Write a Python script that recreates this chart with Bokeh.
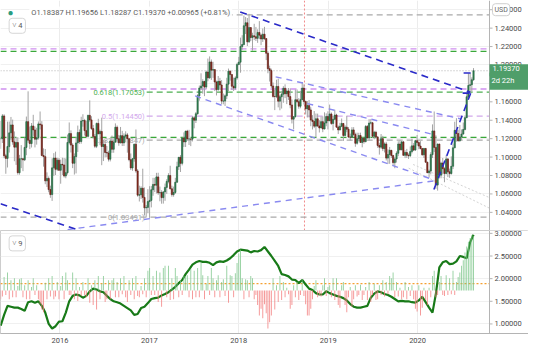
import datetime as dt
from bokeh.plotting import figure
from bokeh.models import (ColumnDataSource, FixedTicker, NumeralTickFormatter, Label,
                          Range1d, Span, Grid)
from bokeh.layouts import column
from bokeh.embed import file_html
from bokeh.resources import INLINE
from bokeh.core.properties import value

FONT = "Roboto"

# ---------------- data (weekly EUR/USD, weeks starting 2015-05-04) ----------------
first_open = 1.1198
close_2015 = [1.1200, 1.1447, 1.1014, 1.0986, 1.1114, 1.1263, 1.1349, 1.1165, 1.1108, 1.1158, 1.0831, 1.0981, 1.0982, 1.0970, 1.1105, 1.1385, 1.1183, 1.1147, 1.1338, 1.1295, 1.1194, 1.1210, 1.1360, 1.1350, 1.1017, 1.1005, 1.0742, 1.0768, 1.0647, 1.0593, 1.0883, 1.0990, 1.0867, 1.0967, 1.0857]
high_2015 = [1.1392, 1.1467, 1.1465, 1.1035, 1.1385, 1.1386, 1.1436, 1.1407, 1.1278, 1.1215, 1.1217, 1.1024, 1.1130, 1.0990, 1.1214, 1.1440, 1.1714, 1.1332, 1.1370, 1.1459, 1.1332, 1.1318, 1.1387, 1.1495, 1.1390, 1.1095, 1.1088, 1.0834, 1.0790, 1.0690, 1.0985, 1.1043, 1.1059, 1.0992, 1.0990]
low_2015 = [1.1090, 1.1153, 1.0988, 1.0819, 1.0887, 1.1049, 1.1187, 1.1134, 1.0955, 1.0915, 1.0809, 1.0809, 1.0880, 1.0847, 1.0957, 1.1020, 1.1155, 1.1087, 1.1104, 1.1230, 1.1105, 1.1135, 1.1190, 1.1300, 1.1009, 1.0896, 1.0705, 1.0675, 1.0618, 1.0558, 1.0524, 1.0796, 1.0805, 1.0848, 1.0849]

close_2016 = [1.0921, 1.0915, 1.0795, 1.0831, 1.1158, 1.1255, 1.1130, 1.0933, 1.1005, 1.1154, 1.1267, 1.1169, 1.1392, 1.1397, 1.1287, 1.1225, 1.1453, 1.1404, 1.1310, 1.1224, 1.1118, 1.1366, 1.1253, 1.1278, 1.1115, 1.1137, 1.1050, 1.1044, 1.0977, 1.1174, 1.1085, 1.1162, 1.1324, 1.1199, 1.1155, 1.1233, 1.1154, 1.1227, 1.1241, 1.1200, 1.0972, 1.0882, 1.0982, 1.1140, 1.0850, 1.0587, 1.0590, 1.0662, 1.0562, 1.0449, 1.0454, 1.0517]
high_2016 = [1.0972, 1.0993, 1.0990, 1.0985, 1.1245, 1.1376, 1.1290, 1.1150, 1.1040, 1.1218, 1.1342, 1.1300, 1.1438, 1.1465, 1.1415, 1.1395, 1.1460, 1.1616, 1.1444, 1.1349, 1.1250, 1.1374, 1.1416, 1.1298, 1.1428, 1.1187, 1.1187, 1.1120, 1.1069, 1.1198, 1.1234, 1.1190, 1.1366, 1.1343, 1.1240, 1.1327, 1.1285, 1.1258, 1.1280, 1.1262, 1.1210, 1.1039, 1.0990, 1.1145, 1.1300, 1.0870, 1.0690, 1.0683, 1.0874, 1.0670, 1.0480, 1.0652]
low_2016 = [1.0711, 1.0805, 1.0778, 1.0770, 1.0810, 1.1140, 1.1050, 1.0880, 1.0810, 1.0823, 1.1056, 1.1144, 1.1145, 1.1330, 1.1234, 1.1217, 1.1212, 1.1384, 1.1295, 1.1200, 1.1098, 1.1098, 1.1248, 1.1130, 1.0912, 1.0957, 1.0998, 1.1000, 1.0952, 1.0953, 1.1046, 1.1047, 1.1160, 1.1170, 1.1123, 1.1148, 1.1120, 1.1120, 1.1160, 1.1048, 1.0954, 1.0859, 1.0851, 1.0950, 1.0830, 1.0570, 1.0518, 1.0545, 1.0506, 1.0366, 1.0352, 1.0390]

close_2017 = [1.0530, 1.0645, 1.0703, 1.0695, 1.0785, 1.0612, 1.0615, 1.0560, 1.0622, 1.0671, 1.0736, 1.0800, 1.0656, 1.0593, 1.0616, 1.0727, 1.0896, 1.0998, 1.0932, 1.1206, 1.1165, 1.1282, 1.1197, 1.1197, 1.1195, 1.1426, 1.1400, 1.1471, 1.1665, 1.1750, 1.1772, 1.1820, 1.1760, 1.1924, 1.1860, 1.2033, 1.1944, 1.1950, 1.1815, 1.1733, 1.1822, 1.1783, 1.1608, 1.1608, 1.1665, 1.1792, 1.1933, 1.1896, 1.1769, 1.1751, 1.1859, 1.2005]
high_2017 = [1.0684, 1.0685, 1.0775, 1.0775, 1.0829, 1.0830, 1.0680, 1.0640, 1.0630, 1.0713, 1.0760, 1.0825, 1.0906, 1.0690, 1.0680, 1.0775, 1.0950, 1.1000, 1.1022, 1.1214, 1.1268, 1.1285, 1.1296, 1.1296, 1.1199, 1.1445, 1.1445, 1.1490, 1.1683, 1.1777, 1.1910, 1.1845, 1.1830, 1.1940, 1.2070, 1.2093, 1.2060, 1.2035, 1.1950, 1.1830, 1.1880, 1.1860, 1.1836, 1.1690, 1.1680, 1.1861, 1.1961, 1.1940, 1.1900, 1.1863, 1.1877, 1.2023]
low_2017 = [1.0340, 1.0454, 1.0580, 1.0620, 1.0605, 1.0590, 1.0520, 1.0494, 1.0495, 1.0525, 1.0600, 1.0715, 1.0650, 1.0570, 1.0570, 1.0600, 1.0720, 1.0860, 1.0838, 1.0910, 1.1110, 1.1110, 1.1190, 1.1131, 1.1119, 1.1170, 1.1312, 1.1370, 1.1460, 1.1612, 1.1730, 1.1688, 1.1662, 1.1741, 1.1823, 1.1850, 1.1838, 1.1860, 1.1717, 1.1669, 1.1720, 1.1730, 1.1574, 1.1573, 1.1555, 1.1630, 1.1715, 1.1830, 1.1730, 1.1717, 1.1730, 1.1840]

close_2018 = [1.2030, 1.2200, 1.2222, 1.2426, 1.2458, 1.2251, 1.2406, 1.2298, 1.2317, 1.2307, 1.2289, 1.2353, 1.2324, 1.2282, 1.2334, 1.2287, 1.2127, 1.1960, 1.1940, 1.1772, 1.1658, 1.1657, 1.1767, 1.1607, 1.1655, 1.1683, 1.1747, 1.1687, 1.1718, 1.1657, 1.1566, 1.1412, 1.1438, 1.1622, 1.1602, 1.1552, 1.1623, 1.1749, 1.1604, 1.1524, 1.1559, 1.1512, 1.1402, 1.1387, 1.1336, 1.1416, 1.1338, 1.1316, 1.1385, 1.1305, 1.1370, 1.1440]
high_2018 = [1.2088, 1.2297, 1.2323, 1.2536, 1.2520, 1.2510, 1.2555, 1.2411, 1.2350, 1.2447, 1.2413, 1.2387, 1.2476, 1.2340, 1.2396, 1.2414, 1.2290, 1.2150, 1.1993, 1.1960, 1.1810, 1.1730, 1.1840, 1.1852, 1.1675, 1.1720, 1.1770, 1.1790, 1.1745, 1.1750, 1.1746, 1.1625, 1.1445, 1.1733, 1.1734, 1.1640, 1.1721, 1.1815, 1.1790, 1.1613, 1.1609, 1.1620, 1.1541, 1.1455, 1.1500, 1.1473, 1.1472, 1.1400, 1.1441, 1.1442, 1.1486, 1.1475]
low_2018 = [1.1998, 1.1916, 1.2165, 1.2214, 1.2336, 1.2206, 1.2240, 1.2260, 1.2155, 1.2270, 1.2260, 1.2240, 1.2280, 1.2215, 1.2250, 1.2270, 1.2053, 1.1910, 1.1820, 1.1750, 1.1645, 1.1510, 1.1640, 1.1540, 1.1508, 1.1527, 1.1590, 1.1640, 1.1575, 1.1620, 1.1530, 1.1365, 1.1301, 1.1430, 1.1590, 1.1525, 1.1530, 1.1620, 1.1570, 1.1463, 1.1430, 1.1430, 1.1335, 1.1300, 1.1315, 1.1216, 1.1325, 1.1267, 1.1315, 1.1270, 1.1300, 1.1335]

close_2019 = [1.1395, 1.1468, 1.1365, 1.1410, 1.1457, 1.1325, 1.1295, 1.1334, 1.1365, 1.1235, 1.1325, 1.1303, 1.1217, 1.1216, 1.1295, 1.1246, 1.1150, 1.1200, 1.1234, 1.1159, 1.1204, 1.1168, 1.1333, 1.1208, 1.1370, 1.1372, 1.1226, 1.1270, 1.1219, 1.1126, 1.1108, 1.1200, 1.1092, 1.1143, 1.0989, 1.1028, 1.1074, 1.1017, 1.0940, 1.0979, 1.1041, 1.1142, 1.1080, 1.1165, 1.1019, 1.1050, 1.1020, 1.1015, 1.1060, 1.1122, 1.1076, 1.1178]
high_2019 = [1.1497, 1.1570, 1.1485, 1.1446, 1.1514, 1.1470, 1.1343, 1.1372, 1.1419, 1.1370, 1.1345, 1.1448, 1.1326, 1.1255, 1.1325, 1.1325, 1.1265, 1.1265, 1.1264, 1.1265, 1.1215, 1.1216, 1.1347, 1.1348, 1.1412, 1.1412, 1.1382, 1.1285, 1.1286, 1.1225, 1.1155, 1.1250, 1.1231, 1.1160, 1.1165, 1.1085, 1.1110, 1.1075, 1.1025, 1.0998, 1.1063, 1.1172, 1.1180, 1.1175, 1.1176, 1.1074, 1.1089, 1.1040, 1.1115, 1.1200, 1.1152, 1.1188]
low_2019 = [1.1300, 1.1390, 1.1350, 1.1290, 1.1405, 1.1318, 1.1250, 1.1290, 1.1325, 1.1175, 1.1225, 1.1270, 1.1210, 1.1180, 1.1210, 1.1225, 1.1112, 1.1135, 1.1170, 1.1155, 1.1106, 1.1145, 1.1160, 1.1202, 1.1180, 1.1355, 1.1209, 1.1193, 1.1200, 1.1101, 1.1027, 1.1090, 1.1065, 1.1050, 1.0963, 1.0926, 1.0927, 1.0990, 1.0904, 1.0879, 1.0941, 1.1010, 1.1072, 1.1073, 1.1015, 1.0989, 1.0990, 1.0980, 1.1000, 1.1040, 1.1065, 1.1070]

close_2020 = [1.1158, 1.1120, 1.1092, 1.1025, 1.1094, 1.0944, 1.0830, 1.0848, 1.1027, 1.1284, 1.1105, 1.0696, 1.1141, 1.0804, 1.0935, 1.0874, 1.0822, 1.0980, 1.0840, 1.0821, 1.0900, 1.1101, 1.1291, 1.1256, 1.1177, 1.1219, 1.1250, 1.1300, 1.1428, 1.1655, 1.1778, 1.1786, 1.1839, 1.1937]
high_2020 = [1.1240, 1.1170, 1.1173, 1.1100, 1.1097, 1.1095, 1.0950, 1.0865, 1.1053, 1.1355, 1.1495, 1.1236, 1.1147, 1.1147, 1.0950, 1.0990, 1.0890, 1.1020, 1.0990, 1.0875, 1.1008, 1.1146, 1.1384, 1.1422, 1.1297, 1.1349, 1.1300, 1.1375, 1.1452, 1.1689, 1.1909, 1.1916, 1.1866, 1.1966]
low_2020 = [1.1125, 1.1085, 1.1085, 1.1015, 1.0990, 1.0940, 1.0827, 1.0778, 1.0812, 1.0990, 1.1055, 1.0654, 1.0636, 1.0768, 1.0770, 1.0812, 1.0727, 1.0811, 1.0782, 1.0775, 1.0810, 1.0870, 1.1096, 1.1168, 1.1167, 1.1168, 1.1184, 1.1245, 1.1290, 1.1422, 1.1640, 1.1695, 1.1711, 1.1829]

close = close_2015 + close_2016 + close_2017 + close_2018 + close_2019 + close_2020
high = high_2015 + high_2016 + high_2017 + high_2018 + high_2019 + high_2020
low = low_2015 + low_2016 + low_2017 + low_2018 + low_2019 + low_2020

# lower pane: weekly histogram (deviation from its baseline) and the indicator line (every 2 weeks)
hist_base = 1.737
hist = [
    -0.19, -0.13, 0.30, -0.10, 0.40, -0.19, 0.23, -0.15, 0.27, -0.15, 0.10, 0.25,
    0.27, -0.15, 0.12, -0.19, 0.23, -0.19, 0.08, 0.27, -0.10, 0.12, -0.19, -0.30,
    -0.42, -0.48, 0.17, -0.19, 0.27, -0.13, 0.32, -0.19, -0.13, 0.19, -0.19, 0.10,
    0.32, -0.19, 0.40, 0.23, -0.10, -0.10, 0.40, -0.19, 0.27, -0.23, 0.08, -0.12,
    0.19, -0.10, -0.15, 0.27, -0.27, 0.12, -0.32, 0.23, -0.42, 0.32, -0.19, 0.15,
    0.32, -0.25, -0.19, 0.23, -0.19, 0.23, 0.27, -0.15, 0.19, -0.15, 0.27, -0.08,
    0.32, -0.15, -0.25, 0.23, -0.10, 0.27, -0.19, 0.32, -0.12, -0.15, 0.10, -0.08,
    0.27, -0.15, 0.44, 0.50, -0.10, 0.32, -0.10, 0.44, -0.25, 0.40, -0.36, 0.50,
    0.55, -0.15, 0.55, -0.21, 0.27, -0.19, 0.50, 0.32, -0.15, 0.23, -0.10, 0.32,
    0.32, 0.34, -0.15, 0.48, -0.19, 0.44, -0.15, 0.50, -0.15, 0.61, 0.34, -0.19,
    0.15, 0.32, -0.10, 0.50, 0.27, -0.15, 0.23, 0.34, -0.15, 0.19, 0.25, -0.12,
    0.55, -0.27, 0.34, 0.32, -0.15, 0.38, 0.61, 0.82, 0.90, 0.27, -0.19, 0.25,
    0.23, -0.15, 0.32, 0.27, -0.19, -0.10, -0.32, -0.55, -0.40, -0.61, -0.30, -0.50,
    -0.84, -0.70, -0.55, 0.27, -0.42, 0.12, -0.25, 0.32, -0.21, 0.19, -0.15, 0.06,
    -0.08, -0.40, -0.32, 0.12, -0.15, 0.19, -0.21, -0.10, 0.23, -0.12, -0.30, -0.55,
    -0.55, -0.40, -0.19, 0.10, 0.23, -0.15, -0.10, -0.13, 0.12, 0.27, -0.12, 0.08,
    0.12, -0.15, 0.27, -0.21, 0.27, -0.32, -0.38, 0.12, 0.19, -0.32, -0.48, -0.15,
    0.08, -0.36, -0.19, 0.12, -0.13, -0.10, 0.13, -0.21, -0.10, 0.08, -0.21, 0.19,
    -0.25, -0.10, 0.15, -0.21, -0.19, 0.12, -0.10, 0.23, -0.13, 0.19, -0.08, 0.32,
    0.27, 0.40, -0.15, 0.19, -0.13, 0.06, -0.19, -0.15, 0.19, -0.19, 0.08, -0.12,
    0.12, -0.19, -0.40, -0.46, 0.12, -0.55, -0.38, 0.06, -0.21, -0.32, 0.06, -0.15,
    0.32, 0.44, -0.15, -0.10, 0.19, 0.32, -0.10, -0.12, 0.34, -0.10, 0.27, -0.08,
    0.44, -0.10, 0.19, 0.30, 0.40, 0.55, 0.67, 0.84, 0.97, 1.08, 1.16, 1.22, 1.20,
]
ind_line = [
    0.96, 1.20, 1.40, 1.38, 1.36, 1.36, 1.33, 1.29, 1.48, 1.50, 1.47, 1.50, 1.40, 1.25, 1.00, 0.90, 0.95, 1.05, 1.06, 1.25,
    1.50, 1.62, 1.65, 1.63, 1.58, 1.62, 1.72, 1.78, 1.76, 1.72, 1.70, 1.62, 1.55, 1.50, 1.48, 1.45, 1.40, 1.35, 1.30, 1.20,
    1.22, 1.35, 1.38, 1.46, 1.55, 1.57, 1.58, 1.63, 1.66, 1.70, 1.76, 1.82, 1.90, 1.97, 2.10, 2.20, 2.31, 2.36, 2.39, 2.37,
    2.37, 2.35, 2.30, 2.36, 2.38, 2.37, 2.40, 2.45, 2.52, 2.60, 2.64, 2.63, 2.62, 2.58, 2.61, 2.60, 2.63, 2.70, 2.60, 2.50,
    2.39, 2.28, 2.10, 2.08, 2.05, 1.98, 1.97, 1.90, 1.97, 1.87, 1.78, 1.75, 1.68, 1.65, 1.65, 1.72, 1.68, 1.65, 1.62, 1.60,
    1.57, 1.52, 1.44, 1.38, 1.36, 1.36, 1.38, 1.40, 1.58, 1.67, 1.72, 1.70, 1.66, 1.64, 1.60, 1.55, 1.50, 1.51, 1.50, 1.50,
    1.48, 1.47, 1.52, 1.60, 1.48, 1.36, 1.25, 1.67, 2.25, 2.36, 2.39, 2.32, 2.33, 2.38, 2.50, 2.48, 2.45, 2.80, 2.97,
]
ind_ref_level = 1.89

# drawn levels / tools
fib_labels = ["0(1.03491)", "0.382(1.11847)", "0.5(1.14450)", "0.618(1.17053)", "1(1.25436)"]
fib_prices = [1.03491, 1.11847, 1.14450, 1.17053, 1.25436]
fib_colors = ["#a9a9a9", "#a9a9a9", "#d2a8ec", "#4caf50", "#a9a9a9"]
fib_anchor_year = 2016.97
hline_prices = [1.2175, 1.2148, 1.1739, 1.1215]
hline_colors = ["#cf90f0", "#3aa83a", "#cf90f0", "#3aa83a"]
last_price = 1.1937
price_label = "1.19370"
countdown_label = "2d 22h"
marker_year = 2018.735
# trend lines: (year0, price0, year1, price1)
dark_lines = [(2015.3351, 1.04927, 2016.4075, 1.01430),
              (2018.0160, 1.25756, 2020.5898, 1.17052),
              (2020.1823, 1.06482, 2020.6112, 1.17363),
              (2020.5147, 1.19124, 2020.6219, 1.19124),
              (2020.5040, 1.16948, 2020.6219, 1.16948)]
light_lines = [(2018.4128, 1.18710, 2020.4826, 1.14150),
               (2017.5120, 1.16637, 2020.1823, 1.07518),
               (2018.7667, 1.15808, 2020.1608, 1.12492),
               (2016.0858, 1.02130, 2020.1823, 1.07415)]
faint_lines = [(2019.9, 1.0880, 2020.8043, 1.0445),
               (2019.95, 1.0920, 2020.8043, 1.0560)]

price_ticks = [1.04, 1.06, 1.08, 1.10, 1.12, 1.14, 1.16, 1.18, 1.20, 1.22, 1.24, 1.26]
ind_ticks = [1.0, 1.5, 2.0, 2.5, 3.0]
year_ticks = [2016, 2017, 2018, 2019, 2020]

# ---------------- layout helpers ----------------
X0, X1 = 2015.3351, 2020.8043          # plotting area (left of the price scale)
P_LO, P_HI = 1.0203, 1.2700
I_LO, I_HI = 0.789, 3.063
FW_DATA = 489                           # pixels of the plotting area
FW = 528                                # full frame incl. price scale strip
X_END = X0 + (X1 - X0) * FW / FW_DATA
PXX = (X_END - X0) / FW                 # years per pixel
FH_MAIN = 230
FH_LOW = 103
PXP = (P_HI - P_LO) / FH_MAIN           # price per pixel


def dec_year(d):
    a = dt.date(d.year, 1, 1)
    b = dt.date(d.year + 1, 1, 1)
    return d.year + (d - a).days / (b - a).days


start = dt.date(2015, 5, 4)
n = len(close)
xs = [dec_year(start + dt.timedelta(days=7 * i)) for i in range(n)]
opens = [first_open] + close[:-1]
WEEK = 7 / 365.25

UP_F, UP_L = "#378a58", "#1d5a37"
DN_F, DN_L = "#8f2f22", "#5c1a10"
AXIS_C = "#b4b4b4"


def fx(px):  # reference frame pixel -> year
    return X0 + px / 510.0 * (X1 - X0)


def fy(py):  # reference frame pixel -> price
    return P_HI - py / 241.0 * (P_HI - P_LO)


def gy(py):
    return I_HI - (py - 241) / 108.0 * (I_HI - I_LO)


def scale_strip(fig, ticks, lo, hi):
    """Price-scale strip on the right: white cover, axis line and ticks."""
    fig.quad(left=[X1], right=[X_END], bottom=[lo], top=[hi], fill_color="white", line_color=None)
    fig.segment(x0=[X1] * len(ticks), y0=ticks, x1=[X1 + 3 * PXX] * len(ticks), y1=ticks,
                line_color=AXIS_C, line_width=1)
    fig.add_layout(Span(location=X1, dimension="height", line_color=AXIS_C, line_width=1))
    ax = fig.yaxis[0]
    ax.ticker = FixedTicker(ticks=ticks)
    ax.formatter = NumeralTickFormatter(format="0.00000")
    ax.major_label_text_font = FONT
    ax.major_label_text_font_size = "7.5px"
    ax.major_label_text_color = "#4a4a4a"
    ax.axis_line_color = None
    ax.major_tick_line_color = None
    ax.minor_tick_line_color = None
    ax.major_tick_out = 0
    ax.major_tick_in = 0
    ax.major_label_standoff = -(FW - FW_DATA - 5)


# ---------------- main pane ----------------
p = figure(frame_width=FW, frame_height=FH_MAIN, x_range=Range1d(X0, X_END), y_range=Range1d(P_LO, P_HI),
           output_backend="svg", toolbar_location=None, y_axis_location="right",
           x_axis_location=None, min_border_left=0, min_border_top=0,
           min_border_bottom=0, min_border_right=0)
p.grid.visible = False
p.outline_line_color = None
p.background_fill_color = "white"
p.border_fill_color = "white"
p.add_layout(Grid(dimension=0, ticker=FixedTicker(ticks=year_ticks), grid_line_color="#ececec"))
p.add_layout(Grid(dimension=1, ticker=FixedTicker(ticks=price_ticks), grid_line_color="#f0f0f0"))

# horizontal levels
k = len(hline_prices)
p.segment(x0=[X0] * k, y0=hline_prices, x1=[X1] * k, y1=hline_prices, line_color=hline_colors,
          line_dash="6 4", line_width=1.3)
p.segment(x0=[X0], y0=[last_price], x1=[X1], y1=[last_price], line_color="#b0b0b0",
          line_dash="1 2", line_width=1)
p.add_layout(Span(location=marker_year, dimension="height", line_color="#f08a8a", line_dash="2 2",
                  line_width=1, level="underlay"))

# faint helper lines
for (a, b, c, d) in faint_lines:
    p.line(x=[a, c], y=[b, d], line_color="#d4d4d4", line_dash="2 2", line_width=1)

# fib levels
fib_x0 = [X0] + [fib_anchor_year] * (len(fib_prices) - 1)
p.segment(x0=fib_x0, y0=fib_prices, x1=[X1] * len(fib_prices), y1=fib_prices,
          line_color=fib_colors, line_dash="6 4", line_width=1.2)
p.text(x=[fib_anchor_year] * len(fib_prices), y=fib_prices, text=fib_labels, text_align="right",
       text_baseline="middle", x_offset=-2, text_color=fib_colors, text_font=value(FONT),
       text_font_size="7.5px")

# candles
src = ColumnDataSource(dict(
    x=xs, h=high, l=low,
    top=[max(o, c) for o, c in zip(opens, close)],
    bot=[min(o, c) for o, c in zip(opens, close)],
    fc=[UP_F if c >= o else DN_F for o, c in zip(opens, close)],
    lc=[UP_L if c >= o else DN_L for o, c in zip(opens, close)],
))
p.segment(x0="x", y0="l", x1="x", y1="h", source=src, line_color="#a4a4a4", line_width=1)
p.vbar(x="x", width=WEEK * 0.72, top="top", bottom="bot", fill_color="fc", line_color="lc",
       line_width=0.6, source=src)

# trend lines
for (a, b, c, d) in light_lines:
    p.line(x=[a, c], y=[b, d], line_color="#8a8af0", line_dash="6 5", line_width=1.4)
for (a, b, c, d) in dark_lines:
    p.line(x=[a, c], y=[b, d], line_color="#2a2ac8", line_dash="7 5", line_width=1.6)

scale_strip(p, price_ticks, P_LO, P_HI)

# legend / overlays
p.add_layout(Label(x=fx(10.5), y=fy(12.5), text="\u25cf", text_color="#2a9d80", text_font=FONT,
                   text_font_size="10px", text_align="center", text_baseline="middle"))
p.add_layout(Label(x=fx(30), y=fy(13), text="O1.18387 H1.19656 L1.18287 C1.19370 +0.00965 (+0.81%)",
                   text_color="#5a5a5a", text_font=FONT, text_font_size="7.5px",
                   text_baseline="middle", background_fill_color="white", background_fill_alpha=0.9,
                   padding=2))
p.add_layout(Label(x=fx(9), y=fy(26.5), text="\u02c5 4", text_color="#555555", text_font=FONT,
                   text_font_size="7.5px", text_baseline="middle", background_fill_color="white",
                   border_line_color="#d6d6d6", border_radius=3, padding=3))
# price-scale badges
p.add_layout(Label(x=X1, y=last_price + 0.5 * PXP, text=price_label, text_color="white",
                   text_font=FONT, text_font_size="7.5px", text_baseline="middle",
                   background_fill_color="#4f9e6a", padding=(3, 9, 2, 5)))
p.add_layout(Label(x=X1, y=last_price - 10.5 * PXP, text=countdown_label, text_color="white",
                   text_font=FONT, text_font_size="7.5px", text_baseline="middle",
                   background_fill_color="#4f9e6a", padding=(2, 15, 3, 5)))
p.add_layout(Label(x=X1 + 3 * PXX, y=1.26, text="USD", text_color="#666666", text_font=FONT,
                   text_font_size="7px", text_baseline="middle", background_fill_color="white",
                   border_line_color="#cfcfcf", border_radius=3, padding=2))

# ---------------- lower pane ----------------
q = figure(frame_width=FW, frame_height=FH_LOW, x_range=p.x_range, y_range=Range1d(I_LO, I_HI),
           output_backend="svg", toolbar_location=None, y_axis_location="right",
           min_border_left=0, min_border_top=0, min_border_bottom=15, min_border_right=0)
q.grid.visible = False
q.outline_line_color = "#cdcdcd"
q.background_fill_color = "white"
q.border_fill_color = "white"
xa = q.xaxis[0]
xa.ticker = FixedTicker(ticks=year_ticks)
xa.formatter = NumeralTickFormatter(format="0")
xa.major_label_text_font = FONT
xa.major_label_text_font_size = "7.5px"
xa.major_label_text_color = "#4a4a4a"
xa.axis_line_color = AXIS_C
xa.major_tick_out = 0
xa.major_tick_in = 0
xa.minor_tick_line_color = None
xa.major_label_standoff = 4
q.add_layout(Grid(dimension=0, ticker=FixedTicker(ticks=year_ticks), grid_line_color="#ececec"))
q.add_layout(Grid(dimension=1, ticker=FixedTicker(ticks=ind_ticks), grid_line_color="#f0f0f0"))

q.segment(x0=[X0], y0=[ind_ref_level], x1=[X1], y1=[ind_ref_level], line_color="#f5a030",
          line_dash="2 2", line_width=1.2)
q.line(x=xs[::2][:len(ind_line)], y=ind_line, line_color="#187a18", line_width=2.2)
hsrc = ColumnDataSource(dict(
    x=xs[:len(hist)],
    top=[hist_base + h for h in hist[:n]],
    bot=[hist_base] * len(hist[:n]),
    fc=["#7cc68a" if h >= 0 else "#f27a7a" for h in hist[:n]],
))
q.vbar(x="x", width=WEEK * 0.55, top="top", bottom="bot", fill_color="fc", line_color=None,
       fill_alpha=0.8, source=hsrc)
scale_strip(q, ind_ticks, I_LO, I_HI)
q.add_layout(Label(x=fx(9), y=gy(254.5), text="\u02c5 9", text_color="#555555", text_font=FONT,
                   text_font_size="7.5px", text_baseline="middle", background_fill_color="white",
                   border_line_color="#d6d6d6", border_radius=3, padding=3))

layout = column(p, q, spacing=0)
open("out.html", "w").write(file_html(layout, INLINE))
